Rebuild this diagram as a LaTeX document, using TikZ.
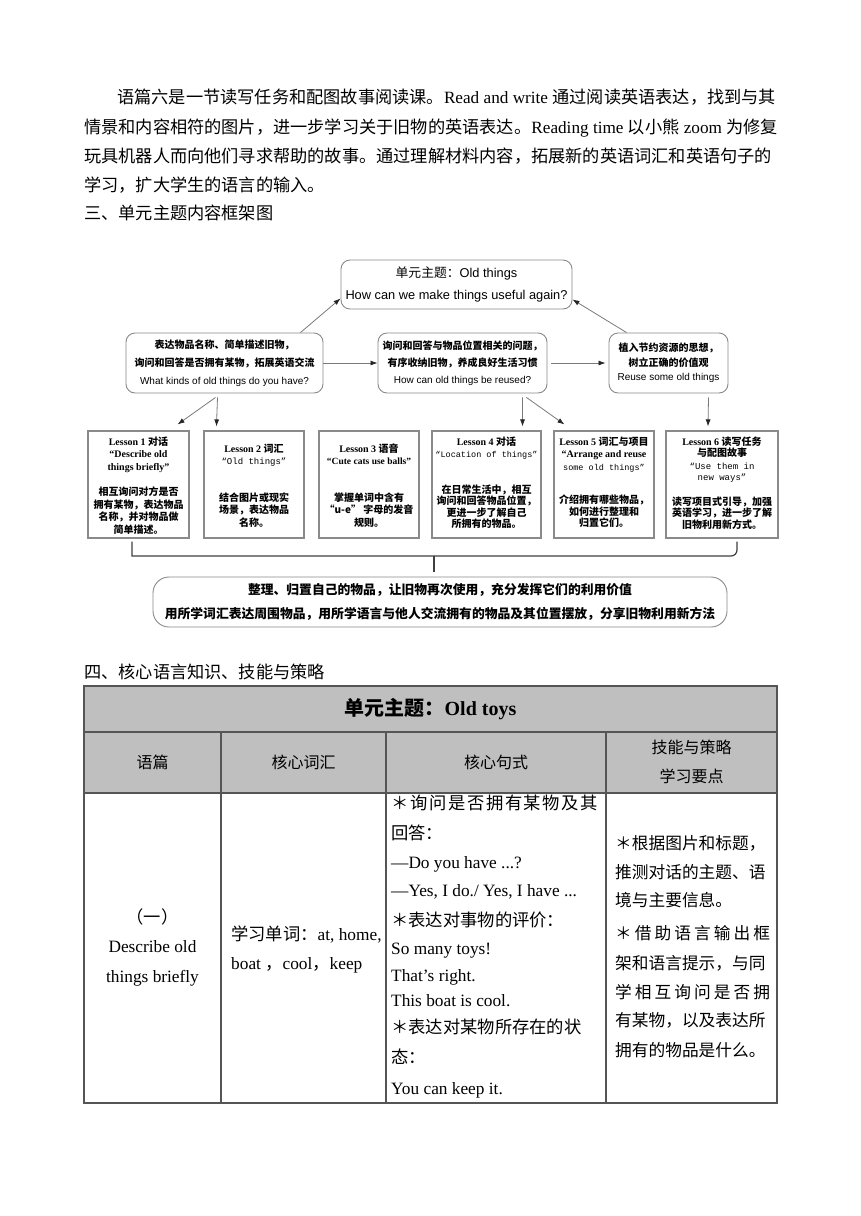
\documentclass[tikz,border=0pt]{standalone}
\usepackage{fontspec}
\setmainfont{Liberation Serif}
\newfontfamily\zh{Noto Sans CJK SC}
\newfontfamily\sans{Liberation Sans}
\newfontfamily\mono{Liberation Mono}
\usetikzlibrary{positioning,arrows.meta}

\definecolor{boxgray}{HTML}{8A8A8A}
\definecolor{arrgray}{HTML}{7A7A7A}
\definecolor{cellgray}{HTML}{BFBFBF}
\definecolor{gridgray}{HTML}{555555}

% chinese runs
\newcommand\zf[1]{{\zh #1}}
\newcommand\zb[1]{{\zh\bfseries #1}}

\tikzset{
  every node/.style={inner sep=0pt},
  bodyln/.style={anchor=west, font=\fontsize{17.2}{20}\selectfont, text height=15.1pt, text depth=2.1pt},
  cellln/.style={anchor=west, font=\fontsize{17.3}{20}\selectfont, text height=15.2pt, text depth=2.1pt},
  skilln/.style={anchor=west, font=\fontsize{16.7}{20}\selectfont, text height=14.7pt, text depth=2pt},
  headc/.style={font=\fontsize{16}{20}\selectfont, text height=14.1pt, text depth=1.9pt},
  rbox/.style={draw=boxgray, line width=.9pt, rounded corners=9pt, align=center},
  lbox/.style={draw=boxgray, line width=1.1pt},
  ltxt/.style={align=center, font=\fontsize{10}{12.5}\selectfont},
  arr/.style={draw=arrgray, line width=.8pt, -{Latex[length=7pt,width=5pt,color=black!85]}},
  bracket/.style={draw=black!75, line width=1.2pt},
  grid/.style={draw=gridgray, line width=1.2pt}
}

\begin{document}
\begin{tikzpicture}[x=1pt,y=-1pt]
\useasboundingbox[fill=white] (0,0) rectangle (860,1216);

% paragraph
\node[bodyln] (p1) at (117,97) {\zf{语篇六是一节读写任务和配图故事阅读课。}Read and write \zf{通过阅读英语表达，找到与其}};
\node[bodyln] (p2) at (84,127) {\zf{情景和内容相符的图片，进一步学习关于旧物的英语表达。}Reading time \zf{以小熊} zoom \zf{为修复}};
\node[bodyln] (p3) at (84,156) {\zf{玩具机器人而向他们寻求帮助的故事。通过理解材料内容，拓展新的英语词汇和英语句子的}};
\node[bodyln] (p4) at (84,185) {\zf{学习，扩大学生的语言的输入。}};
\node[bodyln] (h3) at (84,213) {\zf{三、单元主题内容框架图}};

% framework
\node[rbox, minimum width=231pt, minimum height=49pt, font=\sans\fontsize{12.8}{22}\selectfont] (theme) at (456.5,284.5)
  {\zf{单元主题：}Old things\\How can we make things useful again?};
\node[rbox, minimum width=197pt, minimum height=60pt, font=\sans\fontsize{10}{18}\selectfont] (ask) at (224.5,363)
  {\zb{表达物品名称、简单描述旧物，}\\\zb{询问和回答是否拥有某物，拓展英语交流}\\What kinds of old things do you have?};
\node[rbox, minimum width=169pt, minimum height=60pt, font=\sans\fontsize{10}{17}\selectfont] (where) at (462.5,363)
  {\zb{询问和回答与物品位置相关的问题，}\\\zb{有序收纳旧物，养成良好生活习惯}\\How can old things be reused?};
\node[rbox, minimum width=119pt, minimum height=60pt, font=\sans\fontsize{10}{14.5}\selectfont] (reuse) at (668.5,363)
  {\zb{植入节约资源的思想，}\\\zb{树立正确的价值观}\\Reuse some old things};

\node[lbox, minimum width=101pt, minimum height=107pt] (l1) at (138.5,484.5) {};
\node[lbox, minimum width=100pt, minimum height=107pt] (l2) at (254,484.5) {};
\node[lbox, minimum width=100pt, minimum height=107pt] (l3) at (369,484.5) {};
\node[lbox, minimum width=109pt, minimum height=107pt] (l4) at (486.5,484.5) {};
\node[lbox, minimum width=100pt, minimum height=107pt] (l5) at (604,484.5) {};
\node[lbox, minimum width=112pt, minimum height=107pt] (l6) at (722,484.5) {};

\node[ltxt, below=6pt of l1.north] (t1) {\textbf{Lesson 1} \zb{对话}\\\textbf{“Describe old}\\\textbf{things briefly”}\\[13pt]
  \zb{相互询问对方是否}\\\zb{拥有某物，表达物品}\\\zb{名称，并对物品做}\\\zb{简单描述。}};
\node[ltxt, below=13pt of l2.north] (t2) {\textbf{Lesson 2} \zb{词汇}\\{\mono\fontsize{9}{12.5}\selectfont “Old things”}\\[24pt]
  \zb{结合图片或现实}\\\zb{场景，表达物品}\\\zb{名称。}};
\node[ltxt, below=13pt of l3.north] (t3) {\textbf{Lesson 3} \zb{语音}\\{\bfseries\fontsize{9.5}{12.5}\selectfont “Cute cats use balls”}\\[24pt]
  \zb{掌握单词中含有}\\\zb{“u-e” 字母的发音}\\\zb{规则。}};
\node[ltxt, below=6pt of l4.north] (t4) {\textbf{Lesson 4} \zb{对话}\\{\mono\fontsize{8.5}{12.5}\selectfont “Location of things”}\\[23pt]
  \zb{在日常生活中，相互}\\[-1pt]\zb{询问和回答物品位置，}\\[-1pt]\zb{更进一步了解自己}\\[-1pt]\zb{所拥有的物品。}};
\node[ltxt, below=6pt of l5.north] (t5) {\textbf{Lesson 5} \zb{词汇与项目}\\\textbf{“Arrange and reuse}\\{\mono\fontsize{8.5}{12.5}\selectfont some old things”}\\[21pt]
  \zb{介绍拥有哪些物品，}\\[-1pt]\zb{如何进行整理和}\\[-1pt]\zb{归置它们。}};
\node[ltxt, below=6pt of l6.north] (t6) {\textbf{Lesson 6} \zb{读写任务}\\[-1pt]\zb{与配图故事}\\{\mono\fontsize{9}{12.5}\selectfont “Use them in}\\[-1pt]{\mono\fontsize{9}{12.5}\selectfont new ways”}\\[12pt]
  \zb{读写项目式引导，加强}\\[-1pt]\zb{英语学习，进一步了解}\\[-1pt]\zb{旧物利用新方式。}};

\node[rbox, rounded corners=16pt, minimum width=574pt, minimum height=50pt, font=\fontsize{12.8}{24}\selectfont] (sum) at (440,602)
  {\zb{整理、归置自己的物品，让旧物再次使用，充分发挥它们的利用价值}\\\zb{用所学词汇表达周围物品，用所学语言与他人交流拥有的物品及其位置摆放，分享旧物利用新方法}};

\draw[arr] ([xshift=-23pt]ask.north east) -- ([yshift=11pt]theme.south west);
\draw[arr] ([xshift=18pt]reuse.north west) -- ([yshift=10pt]theme.south east);
\draw[arr] (ask.east) -- (where.west);
\draw[arr, shorten <=4pt, shorten >=3pt] (where.east) -- (reuse.west);
\draw[arr] ([xshift=-9pt,yshift=-4pt]ask.south) -- ([xshift=-12pt,yshift=6pt]l1.north east);
\draw[arr] ([xshift=-7pt,yshift=-4pt]ask.south) -- ([xshift=13pt,yshift=4pt]l2.north west);
\draw[arr] ([xshift=-25pt,yshift=-4pt]where.south east) -- ([xshift=-19pt,yshift=4pt]l4.north east);
\draw[arr] ([xshift=-21pt,yshift=-4pt]where.south east) -- ([xshift=11pt,yshift=6pt]l5.north west);
\draw[arr] ([xshift=40pt,yshift=-4pt]reuse.south) -- ([xshift=-14pt,yshift=4pt]l6.north);

% brace under the lessons
\coordinate (bl) at (132,556);
\coordinate (br) at (737,556);
\draw[bracket] ([yshift=-3pt]l1.south -| bl) -- (bl) -- ([xshift=-6pt]br) to[out=0,in=-90] ([yshift=6pt]br) -- ([yshift=-3pt]l6.south -| br);
\draw[bracket] ([xshift=-6pt]sum.north |- bl) -- ([xshift=-6pt,yshift=5pt]sum.north);

% table
\node[bodyln] (h4) at (84,672) {\zf{四、核心语言知识、技能与策略}};
\fill[cellgray] (84,686) rectangle (777,793);
\draw[grid] (84,686) rectangle (777,1103);
\draw[grid] (84,732) -- (777,732);
\draw[grid] (84,793) -- (777,793);
\foreach \cx in {221,386,606}
  \draw[grid] (\cx,732) -- (\cx,1103);

\node[font=\fontsize{20}{24}\selectfont\bfseries] (ttl) at (430.5,709) {\zf{单元主题：}Old toys};
\node[headc] (c1) at (152.5,762) {\zf{语篇}};
\node[headc] (c2) at (303.5,762) {\zf{核心词汇}};
\node[headc] (c3) at (496,762) {\zf{核心句式}};
\node[align=center, font=\fontsize{16}{29}\selectfont] (c4) at (691.5,762) {\zf{技能与策略}\\\zf{学习要点}};

\node[align=center, font=\fontsize{17.3}{29.5}\selectfont] (d1) at (152.5,947) {\zf{（一）}\\Describe old\\things briefly};

\node[cellln] (v1) at (231,934) {\zf{学习单词：}at, home,};
\node[cellln] (v2) at (231,963) {boat \zf{，}cool\zf{，}keep};

\node[cellln] (s1) at (391,803) {\makebox[207pt][s]{\zf{＊\hfil 询\hfil 问\hfil 是\hfil 否\hfil 拥\hfil 有\hfil 某\hfil 物\hfil 及\hfil 其}}};
\node[cellln] (s2) at (391,833) {\zf{回答：}};
\node[cellln] (s3) at (391,862) {—Do you have ...?};
\node[cellln] (s4) at (391,890) {—Yes, I do./ Yes, I have ...};
\node[cellln] (s5) at (391,920) {\zf{＊表达对事物的评价：}};
\node[cellln] (s6) at (391,948) {So many toys!};
\node[cellln] (s7) at (391,975) {That’s right.};
\node[cellln] (s8) at (391,1000) {This boat is cool.};
\node[cellln] (s9) at (391,1027) {\zf{＊表达对某物所存在的状}};
\node[cellln] (s10) at (391,1057) {\zf{态：}};
\node[cellln] (s11) at (391,1088) {You can keep it.};

\node[skilln] (k1) at (615,843) {\zf{＊根据图片和标题，}};
\node[skilln] (k2) at (615,872) {\zf{推测对话的主题、语}};
\node[skilln] (k3) at (615,900) {\zf{境与主要信息。}};
\node[skilln] (k4) at (615,933) {\makebox[155pt][s]{\zf{＊\hfil 借\hfil 助\hfil 语\hfil 言\hfil 输\hfil 出\hfil 框}}};
\node[skilln] (k5) at (615,963) {\zf{架和语言提示，与同}};
\node[skilln] (k6) at (615,992) {\makebox[155pt][s]{\zf{学\hfil 相\hfil 互\hfil 询\hfil 问\hfil 是\hfil 否\hfil 拥}}};
\node[skilln] (k7) at (615,1020) {\zf{有某物，以及表达所}};
\node[skilln] (k8) at (615,1050) {\zf{拥有的物品是什么。}};
\end{tikzpicture}
\end{document}
